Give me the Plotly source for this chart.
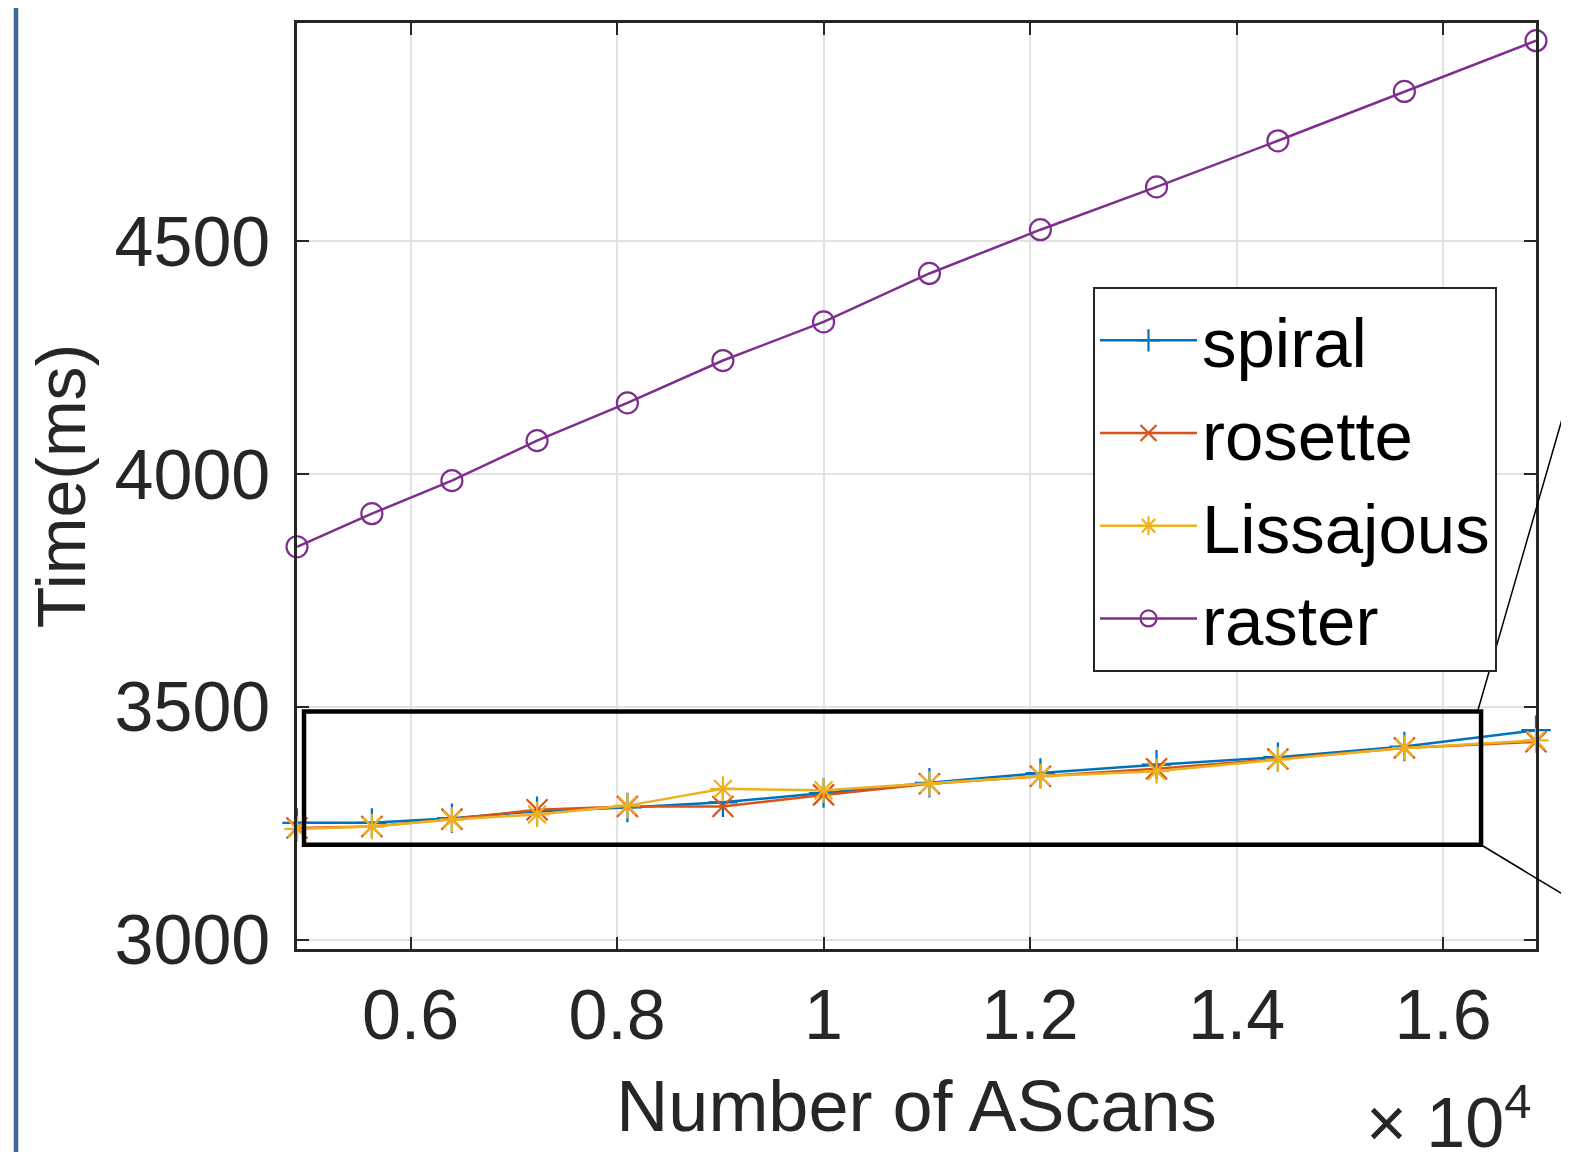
import plotly.graph_objects as go

# ---- data ----
n_ascans = [4900, 5625, 6400, 7225, 8100, 9025, 10000, 11025, 12100, 13225, 14400, 15625, 16900]
spiral = [3251, 3251, 3261, 3276, 3284, 3295, 3315, 3337, 3358, 3376, 3392, 3415, 3450]
rosette = [3240, 3243, 3259, 3279, 3286, 3286, 3311, 3335, 3351, 3367, 3388, 3412, 3425]
lissajous = [3238, 3243, 3258, 3269, 3288, 3324, 3321, 3335, 3351, 3362, 3387, 3412, 3428]
raster = [3844, 3915, 3986, 4072, 4153, 4244, 4327, 4431, 4525, 4617, 4716, 4822, 4931]

x_tickvals = [6000, 8000, 10000, 12000, 14000, 16000]
x_ticktext = ["0.6", "0.8", "1", "1.2", "1.4", "1.6"]
y_tickvals = [3000, 3500, 4000, 4500]

# page has an 8px body margin; work in page coordinates and convert
OFF = 8
W, H = 1569 - OFF, 1152 - OFF
P_LEFT, P_RIGHT, P_TOP, P_BOTTOM = 297, 1536, 23, 949   # plot area in page px
L, R, T, B = P_LEFT - OFF, W - (P_RIGHT - OFF), P_TOP - OFF, H - (P_BOTTOM - OFF)
pw, ph = W - L - R, H - T - B

def px(xp):
    return (xp - OFF - L) / pw

def py(yp):
    return (H - B - (yp - OFF)) / ph

FONT = "Liberation Sans, Arial, Helvetica, sans-serif"

series = [
    ("spiral", spiral, "#0072BD", "cross-thin-open"),
    ("rosette", rosette, "#D95319", "x-thin-open"),
    ("Lissajous", lissajous, "#EDB120", "asterisk-open"),
    ("raster", raster, "#7E2F8E", "circle-open"),
]

fig = go.Figure()
for name, vals, col, sym in series:
    fig.add_trace(go.Scatter(
        x=n_ascans, y=vals, name=name, mode="lines+markers",
        line=dict(color=col, width=2.5),
        marker=dict(symbol=sym, size=21, color=col, line=dict(color=col, width=2.2)),
        cliponaxis=False,
    ))

axis_common = dict(
    showline=True, linecolor="#262626", linewidth=2.5, mirror="ticks",
    ticks="inside", ticklen=12, tickwidth=2, tickcolor="#262626",
    showgrid=True, gridcolor="#E2E2E2", gridwidth=1.5, zeroline=False,
    tickfont=dict(family=FONT, size=70, color="#262626"),
)

fig.update_xaxes(
    range=[4900, 16900], tickvals=x_tickvals, ticktext=x_ticktext,
    title=dict(text="Number of AScans", font=dict(family=FONT, size=72, color="#262626"), standoff=28),
    ticklabelstandoff=3, **axis_common,
)
fig.update_yaxes(
    range=[2980, 4969], tickvals=y_tickvals,
    title=dict(text="Time(ms)", font=dict(family=FONT, size=68, color="#262626"), standoff=7),
    ticklabelstandoff=10, **axis_common,
)

# zoom rectangle (data coords) and connector lines
fig.add_shape(type="rect", xref="x", yref="y", x0=4968, x1=16368, y0=3204, y1=3490,
              line=dict(color="black", width=4.5))
fig.add_shape(type="line", xref="paper", yref="paper",
              x0=px(1478), y0=py(710), x1=px(1569), y1=py(395),
              line=dict(color="black", width=1.5))
fig.add_shape(type="line", xref="paper", yref="paper",
              x0=px(1483), y0=py(846), x1=px(1569), y1=py(898),
              line=dict(color="black", width=1.5))
# left blue border of the screenshot
fig.add_shape(type="line", xref="paper", yref="paper",
              x0=px(16), y0=py(OFF), x1=px(16), y1=py(1152),
              line=dict(color="#3E6597", width=4.5))

fig.add_annotation(
    xref="paper", yref="paper", x=px(1533), y=py(1118), xanchor="right", yanchor="middle",
    text="× 10<sup>4</sup>", showarrow=False,
    font=dict(family=FONT, size=70, color="#262626"),
)

fig.update_layout(
    width=W, height=H,
    margin=dict(l=L, r=R, t=T, b=B, autoexpand=False),
    paper_bgcolor="white", plot_bgcolor="white",
    showlegend=True,
    legend=dict(
        x=px(1093), y=py(287), xanchor="left", yanchor="top",
        bgcolor="white", bordercolor="#262626", borderwidth=2,
        font=dict(family=FONT, size=69, color="black"),
        itemwidth=97, tracegroupgap=0,
    ),
)

fig.write_html("out.html")
